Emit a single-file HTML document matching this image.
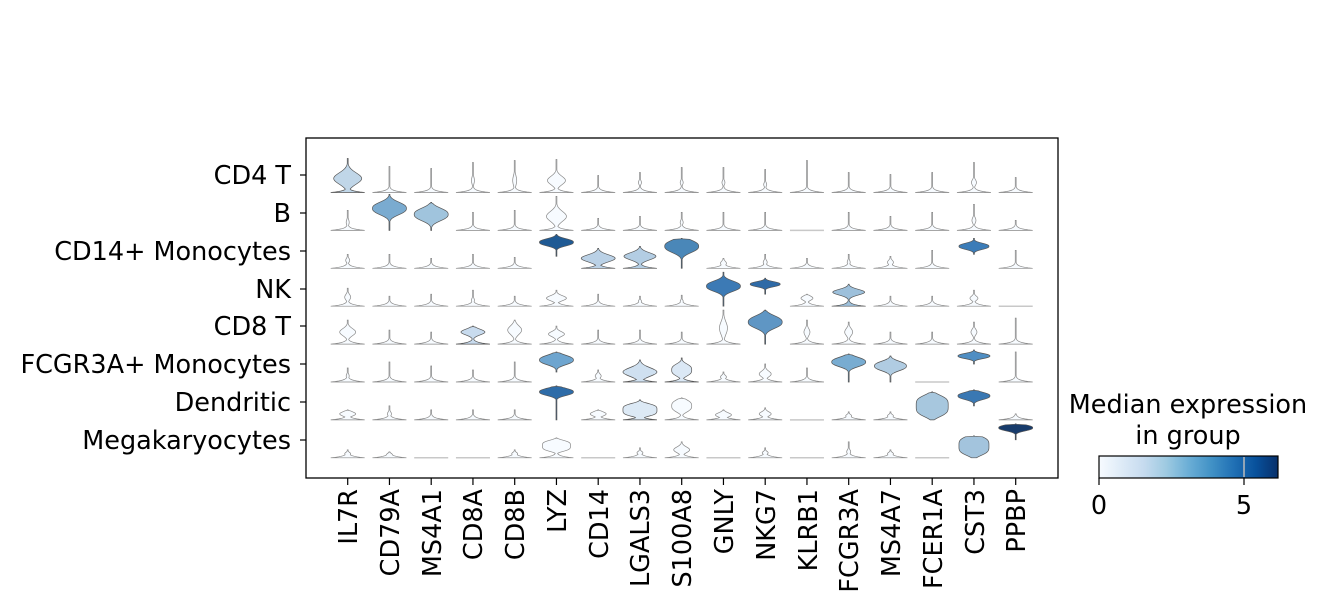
<!DOCTYPE html>
<html><head><meta charset="utf-8"><style>
html,body{margin:0;padding:0;background:#fff;}
svg{display:block;font-family:"DejaVu Sans","Liberation Sans",sans-serif;}
</style></head><body>
<svg id="s" width="1325" height="615" viewBox="0 0 1325 615" xmlns="http://www.w3.org/2000/svg">
<defs><linearGradient id="bl" x1="0" x2="1" y1="0" y2="0">
<stop offset="0" stop-color="#f7fbff"/><stop offset="0.125" stop-color="#deebf7"/><stop offset="0.25" stop-color="#c6dbef"/><stop offset="0.375" stop-color="#9ecae1"/><stop offset="0.5" stop-color="#6baed6"/><stop offset="0.625" stop-color="#4292c6"/><stop offset="0.75" stop-color="#2171b5"/><stop offset="0.875" stop-color="#08519c"/><stop offset="1" stop-color="#08306b"/></linearGradient></defs>
<g id="v"></g>
<rect x="306" y="138" width="752" height="340" fill="none" stroke="#000" stroke-width="1.3"/>
<g font-size="25.5" text-anchor="end" fill="#000">
<text x="291" y="184">CD4 T</text><text x="291" y="222">B</text><text x="291" y="260">CD14+ Monocytes</text><text x="291" y="298">NK</text><text x="291" y="335">CD8 T</text><text x="291" y="373">FCGR3A+ Monocytes</text><text x="291" y="411">Dendritic</text><text x="291" y="449">Megakaryocytes</text>
</g>
<g stroke="#000" stroke-width="1.2">
<line x1="300" x2="306" y1="175" y2="175"/><line x1="300" x2="306" y1="213" y2="213"/><line x1="300" x2="306" y1="251" y2="251"/><line x1="300" x2="306" y1="289" y2="289"/><line x1="300" x2="306" y1="326" y2="326"/><line x1="300" x2="306" y1="364" y2="364"/><line x1="300" x2="306" y1="402" y2="402"/><line x1="300" x2="306" y1="440" y2="440"/>
</g>
<g font-size="25.5" fill="#000">
<text transform="translate(357,489) rotate(-90)" text-anchor="end">IL7R</text>
<text transform="translate(399,489) rotate(-90)" text-anchor="end">CD79A</text>
<text transform="translate(441,489) rotate(-90)" text-anchor="end">MS4A1</text>
<text transform="translate(482,489) rotate(-90)" text-anchor="end">CD8A</text>
<text transform="translate(524,489) rotate(-90)" text-anchor="end">CD8B</text>
<text transform="translate(566,489) rotate(-90)" text-anchor="end">LYZ</text>
<text transform="translate(608,489) rotate(-90)" text-anchor="end">CD14</text>
<text transform="translate(649,489) rotate(-90)" text-anchor="end">LGALS3</text>
<text transform="translate(691,489) rotate(-90)" text-anchor="end">S100A8</text>
<text transform="translate(733,489) rotate(-90)" text-anchor="end">GNLY</text>
<text transform="translate(775,489) rotate(-90)" text-anchor="end">NKG7</text>
<text transform="translate(817,489) rotate(-90)" text-anchor="end">KLRB1</text>
<text transform="translate(858,489) rotate(-90)" text-anchor="end">FCGR3A</text>
<text transform="translate(900,489) rotate(-90)" text-anchor="end">MS4A7</text>
<text transform="translate(942,489) rotate(-90)" text-anchor="end">FCER1A</text>
<text transform="translate(984,489) rotate(-90)" text-anchor="end">CST3</text>
<text transform="translate(1025,489) rotate(-90)" text-anchor="end">PPBP</text>
</g>
<g id="xtk" stroke="#000" stroke-width="1.2"></g>
<text x="1188" y="413" font-size="25.5" text-anchor="middle">Median expression</text>
<text x="1188" y="444" font-size="25.5" text-anchor="middle">in group</text>
<rect x="1099" y="456" width="179" height="22" fill="url(#bl)" stroke="#000" stroke-width="1.2"/>
<line x1="1244" x2="1244" y1="457" y2="477" stroke="#bbb" stroke-width="1.5"/>
<line x1="1099" x2="1099" y1="478" y2="485" stroke="#000" stroke-width="1.2"/>
<line x1="1244" x2="1244" y1="478" y2="485" stroke="#000" stroke-width="1.2"/>
<text x="1099" y="514" font-size="25.5" text-anchor="middle">0</text>
<text x="1244" y="514" font-size="25.5" text-anchor="middle">5</text>
</svg>
<script>
(function(){
var W="#f7fbff";
var R=[
[["#c0d6e8",34,14,14,8,1,0,2],[W,26],[W,24],[W,30,12,1.5,5,1],[W,32,12,2,7,1],[W,33,12,9,6,1],[W,17],[W,20,10,1.5,3,1],[W,25,10,1.5,3,1],[W,25,10,1.5,3,1],[W,23,8,1.5,3,1],[W,32],[W,20],[W,18],[W,20],[W,30,10,2.5,4,1],[W,15]],
[[W,20,8,1.5,4,1],["#7aabd0",36,22,17,6,0,0,2],["#a0c4dd",28,16,17,6,0,0,2],[W,18],[W,20],[W,34,14,10,7,1],[W,12],[W,14],[W,18,8,1.5,3,1],[W,18],[W,18],[W,0],[W,18],[W,14],[W,18],[W,26,10,2,4,1],[W,10]],
[[W,14,8,2,3,1],[W,14],[W,10],[W,14],[W,11],["#1f5a94",34,26,17,3.5,0,12,2],["#bad1e6",20,10,17,5,1,0,2],["#b3cde3",22,12,16,5,1,0,2],["#4a87b8",30,22,17,6,0,0,2],[W,10,5,3,3,1],[W,14,6,2,3,1],[W,10],[W,14,6,1.5,3,1],[W,12,6,3,3,1],[W,18],["#3b7cb8",30,22,15,3,0,14,2],[W,18]],
[[W,18,9,3,4,1],[W,10],[W,12],[W,16,6,1.5,3,1],[W,10],[W,16,8,10,3.5,1],[W,12],[W,10,5,1.5,2,1],[W,11,5,1.5,2,1],["#3c7ab5",34,20,17,5,0,0,2],["#2f6aa6",28,22,15,2.5,0,12,2],[W,12,8,6,3,1],["#9dc0db",22,14,16,4,1,0,2],[W,10],[W,10],[W,16,8,4,3,1],[W,0]],
[[W,24,12,8,5,1],[W,14],[W,12],["#c8dbee",18,12,12,4,1,0,2],[W,24,14,7,6,1],[W,18,10,8,3.5,1],[W,14],[W,14],[W,12],[W,34,16,4,9,1],["#5f96c4",34,22,17,6,0,0,2],[W,24,12,3,5,1],[W,22,12,4,5,1],[W,12],[W,12],[W,22,12,3,4,1],[W,26]],
[[W,14,6,1.5,3,1],[W,20],[W,16],[W,12],[W,20],["#6ea5cf",30,22,17,4.5,0,10,2],[W,12,6,3,3,1],["#cfe0f0",22,10,17,6,1,0,2],["#dbe8f5",24,12,10,7,1,0,3],[W,10,5,3,2.5,1],[W,18,8,6,4,1],[W,14],["#78acd1",28,20,17,4.5,0,0,2],["#b0cce2",26,16,16,4.5,0,0,2],[W,0],["#4f8ec3",32,26,16,2.5,0,18,2],[W,30]],
[[W,10,6,8,3,1],[W,14,6,2,3,1],[W,10],[W,10],[W,10],["#2e6ca8",34,28,17,3.5,0,0,2],[W,10,6,8,3,1],["#dce9f5",20,10,17,7,1,0,4],[W,22,14,10,7,1,0,3],[W,10,5,8,3,1],[W,12,6,6,3,1],[W,0],[W,8,4,3,2,1],[W,8,4,3,2,1],["#a7c7de",28,14,16,9,0,0,4],["#3a78b3",30,24,16,3.5,0,14,2],[W,6]],
[[W,8,4,3,2,1],[W,6,3,3,2,1],[W,0],[W,0],[W,8,4,3,2,1],[W,20,12,14,6,1,0,4],[W,0],[W,10,5,3,2,1],[W,16,8,8,4,1],[W,0],[W,10,5,3,2,1],[W,0],[W,16,6,2,3,1],[W,8,4,3,2,1],[W,0],["#a3c4dd",22,12,15,8,0,0,4],["#173b6b",34,30,17,3,0,18,2]]
];
var gv=document.getElementById('v'),out="",xt="";
for(var j=0;j<17;j++){var cx=347.7+41.75*j;xt+='<line x1="'+cx+'" x2="'+cx+'" y1="478" y2="485"/>';}
document.getElementById('xtk').innerHTML=xt;
for(var i=0;i<8;i++){var by=192.5+37.9*i;
for(var j=0;j<17;j++){var cx=347.7+41.75*j,d=R[i][j],f=d[0],tp=d[1];
if(tp==0){out+='<line x1="'+(cx-17)+'" x2="'+(cx+17)+'" y1="'+by+'" y2="'+by+'" stroke="#c8c8c8" stroke-width="1.5"/>';continue;}
var cc=d[2]||0,ww=d[3]||0,ss=d[4]||1,base=(d[5]===undefined)?1:d[5],bot=d[6]||0,pp=d[7]||2;
if(base==0){ss*=1.3;pp=Math.max(pp,2.5);}
var L=[],Rr=[];
for(var y=bot;y<=tp+0.001;y+=0.5){
var h=Math.max(base*17*Math.exp(-y/1.6), ww*Math.exp(-Math.pow(Math.abs((y-cc)/ss),pp)),0.45);
if(y>=tp-0.5)h=Math.min(h,0.45);
Rr.push([cx+h,by-y]);L.push([cx-h,by-y]);}
var pts=Rr.concat(L.reverse());
var ps="M"+pts.map(function(q){return q[0].toFixed(2)+","+q[1].toFixed(2);}).join("L")+"Z";
var st=(f==W)?"#888":"#555";
out+='<path d="'+ps+'" fill="'+f+'" stroke="'+st+'" stroke-width="0.7"/>';}}
gv.innerHTML=out;
})();
</script>
</body></html>
